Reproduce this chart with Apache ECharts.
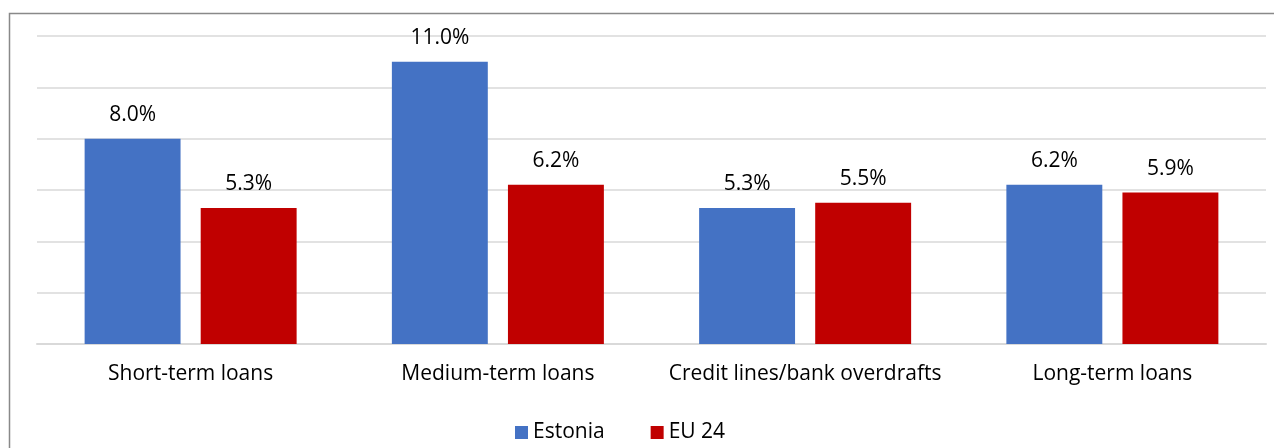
<!DOCTYPE html>
<html>
<head>
<meta charset="utf-8">
<script src="https://cdn.jsdelivr.net/npm/echarts@6/dist/echarts.min.js"></script>
<style>
  html, body { margin: 0; padding: 0; background: #fff; }
  #chart { width: 1274px; height: 448px; }
</style>
</head>
<body>
<div id="chart"></div>
<script>
// Loan interest rates by loan type
const categories = ['Short-term loans', 'Medium-term loans', 'Credit lines/bank overdrafts', 'Long-term loans'];
const estonia = [8.0, 11.0, 5.3, 6.2];
const eu24 = [5.3, 6.2, 5.5, 5.9];
const seriesNames = ['Estonia', 'EU 24'];

const font = '"Open Sans", "Noto Sans", sans-serif';
const chart = echarts.init(document.getElementById('chart'));

const valueLabel = {
  show: true,
  position: 'top',
  distance: 13,
  fontSize: 21,
  fontFamily: font,
  color: '#000',
  formatter: p => p.value.toFixed(1) + '%'
};

chart.setOption({
  animation: false,
  graphic: [{
    type: 'rect',
    shape: { x: 9.5, y: 13.5, width: 1300, height: 500 },
    style: { fill: 'none', stroke: '#898989', lineWidth: 1.5 },
    silent: true
  }],
  grid: { left: 37, right: 8, top: 36, bottom: 104 },
  legend: {
    bottom: 0,
    left: 510,
    itemWidth: 13,
    itemHeight: 13,
    itemGap: 46,
    icon: 'rect',
    textStyle: { fontSize: 21, fontFamily: font, color: '#000' },
    data: seriesNames
  },
  xAxis: {
    type: 'category',
    data: categories,
    axisLine: { lineStyle: { color: '#d9d9d9', width: 2 } },
    axisTick: { show: false },
    axisLabel: { interval: 0, fontSize: 21, fontFamily: font, color: '#000', margin: 20 }
  },
  yAxis: {
    type: 'value',
    min: 0,
    max: 12,
    interval: 2,
    axisLabel: { show: false },
    axisLine: { show: false },
    axisTick: { show: false },
    splitLine: { lineStyle: { color: '#d9d9d9', width: 1.5 } }
  },
  series: [
    {
      name: seriesNames[0],
      type: 'bar',
      data: estonia,
      itemStyle: { color: '#4472C4' },
      barGap: '21%',
      barCategoryGap: '31%',
      label: valueLabel
    },
    {
      name: seriesNames[1],
      type: 'bar',
      data: eu24,
      itemStyle: { color: '#C00000' },
      label: valueLabel
    }
  ]
});
</script>
</body>
</html>
